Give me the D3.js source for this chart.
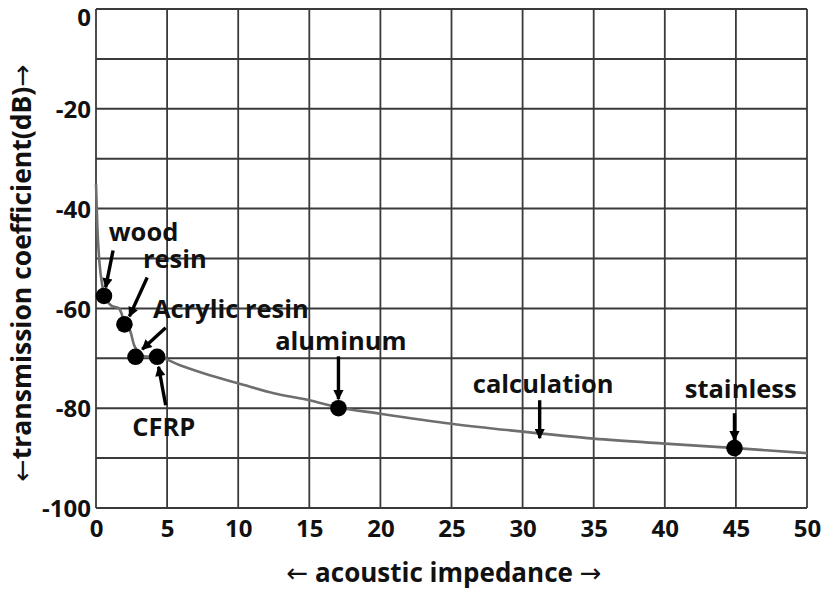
<!DOCTYPE html>
<html>
<head>
<meta charset="utf-8">
<script src="https://cdn.jsdelivr.net/npm/d3@7"></script>
<style>
  html, body { margin: 0; padding: 0; background: #fff; }
  svg { display: block; }
  text { font-family: "Open Sans", "Noto Sans", sans-serif; font-weight: 700; fill: #111; }
  .arr { font-family: "DejaVu Sans", sans-serif; font-weight: 400; }
</style>
</head>
<body>
<svg id="chart" width="827" height="595"></svg>
<script>
// ---- data ----
const xTicks = [0, 5, 10, 15, 20, 25, 30, 35, 40, 45, 50];
const yTicks = [0, -20, -40, -60, -80, -100];
const yGrid = [0, -10, -20, -30, -40, -50, -60, -70, -80, -90, -100];

// calculated transmission curve
const calcX = [0, 0.1, 0.25, 0.45, 0.6, 1.1, 1.6, 1.85, 2.0, 2.4, 2.7, 3.4, 4.3, 6, 8, 10, 12.5, 15, 17, 20, 25, 30, 35, 40, 45, 50];
const calcY = [-35, -44, -51, -55.5, -57.5, -59.5, -60, -61.5, -63.2, -64.5, -67.5, -69.6, -69.7, -71.5, -73.4, -75, -77, -78.4, -79.8, -81.1, -83.1, -84.7, -86.1, -87.1, -88, -89];

// measured materials
const materials = ["wood", "resin", "Acrylic resin", "CFRP", "aluminum", "stainless"];
const matX = [0.56, 2.0, 2.78, 4.3, 17.05, 44.9];
const matY = [-57.5, -63.2, -69.7, -69.7, -80.0, -88.0];

// annotation labels (text, anchor x, baseline y in data units)
const labelText = ["wood", "resin", "Acrylic resin", "CFRP", "aluminum", "calculation", "stainless"];
const labelX = [0.9, 3.3, 4.0, 2.55, 12.6, 26.5, 41.4];
const labelY = [-46.4, -52.0, -62.0, -85.6, -68.4, -77.0, -78.0];

// annotation arrows (from -> to, data units)
const arrowX1 = [1.2, 3.6, 4.9, 4.9, 17.05, 31.2, 44.9];
const arrowY1 = [-48.4, -53.8, -63.9, -79.4, -69.6, -78.4, -81.0];
const arrowX2 = [0.68, 2.35, 3.25, 4.4, 17.05, 31.2, 44.9];
const arrowY2 = [-55.8, -61.6, -68.2, -71.7, -78.2, -86.0, -86.4];

const xTitleParts = ["\u2190", " acoustic impedance ", "\u2192"];
const yTitleParts = ["\u2190", "transmission coefficient(dB)", "\u2192"];

// ---- layout ----
const svg = d3.select("#chart");
svg.append("rect").attr("width", 827).attr("height", 595).attr("fill", "#fff");

const x = d3.scaleLinear().domain([0, 50]).range([96, 807]);
const y = d3.scaleLinear().domain([0, -100]).range([9, 508]);

const gridColor = "#3a3a3a";

// grid
svg.append("g").selectAll("line.v").data(xTicks).join("line")
  .attr("x1", d => x(d)).attr("x2", d => x(d))
  .attr("y1", y(0)).attr("y2", y(-100))
  .attr("stroke", gridColor).attr("stroke-width", 1.8);
svg.append("g").selectAll("line.h").data(yGrid).join("line")
  .attr("x1", x(0)).attr("x2", x(50))
  .attr("y1", d => y(d)).attr("y2", d => y(d))
  .attr("stroke", gridColor).attr("stroke-width", 2);

// axes (labels only)
const fmt = d => String(d);
const xAxis = d3.axisBottom(x).tickValues(xTicks).tickSize(0).tickPadding(0).tickFormat(fmt);
const gx = svg.append("g").attr("transform", `translate(0,${y(-100)})`).call(xAxis);
gx.select(".domain").remove();
gx.selectAll("text").attr("font-size", 24).attr("dy", null).attr("y", 29).style("font-family", '"Open Sans", sans-serif').attr("fill", "#111");

const yAxis = d3.axisLeft(y).tickValues(yTicks).tickSize(0).tickPadding(5).tickFormat(fmt);
const gy = svg.append("g").attr("transform", `translate(${x(0)},0)`).call(yAxis);
gy.select(".domain").remove();
gy.selectAll("text").attr("font-size", 24).attr("dy", "0.36em").style("font-family", '"Open Sans", sans-serif').attr("fill", "#111");
gy.selectAll(".tick").filter(d => d === 0).select("text").attr("dy", "0.7em");

// titles
function titled(sel, parts) {
  sel.selectAll("tspan").data(parts).join("tspan")
    .attr("class", (d, i) => (i === 1 ? null : "arr"))
    .text(d => d);
}
const xt = svg.append("text").attr("x", 444).attr("y", 582).attr("text-anchor", "middle")
  .attr("font-size", 26);
titled(xt, xTitleParts);
const yt = svg.append("text").attr("transform", "translate(31,273) rotate(-90)").attr("text-anchor", "middle")
  .attr("font-size", 26.5);
titled(yt, yTitleParts);

// calculation curve
const calc = calcX.map((v, i) => [v, calcY[i]]);
svg.append("path").datum(calc)
  .attr("d", d3.line().x(d => x(d[0])).y(d => y(d[1])).curve(d3.curveMonotoneX))
  .attr("fill", "none").attr("stroke", "#6e6e6e").attr("stroke-width", 2.6);

// arrow marker
const defs = svg.append("defs");
defs.append("marker").attr("id", "ah").attr("viewBox", "0 0 10 10")
  .attr("refX", 9).attr("refY", 5).attr("markerWidth", 3.6).attr("markerHeight", 3)
  .attr("markerUnits", "strokeWidth").attr("orient", "auto")
  .append("path").attr("d", "M0,0L10,5L0,10Z").attr("fill", "#000");

// arrows
svg.append("g").selectAll("line").data(arrowX1).join("line")
  .attr("x1", (d, i) => x(arrowX1[i])).attr("y1", (d, i) => y(arrowY1[i]))
  .attr("x2", (d, i) => x(arrowX2[i])).attr("y2", (d, i) => y(arrowY2[i]))
  .attr("stroke", "#000").attr("stroke-width", 3.4).attr("marker-end", "url(#ah)");

// points
svg.append("g").selectAll("circle").data(materials).join("circle")
  .attr("cx", (d, i) => x(matX[i])).attr("cy", (d, i) => y(matY[i]))
  .attr("r", 8.3).attr("fill", "#000");

// labels
svg.append("g").selectAll("text").data(labelText).join("text")
  .attr("x", (d, i) => x(labelX[i])).attr("y", (d, i) => y(labelY[i]))
  .attr("font-size", 25.5).text(d => d);
</script>
</body>
</html>
